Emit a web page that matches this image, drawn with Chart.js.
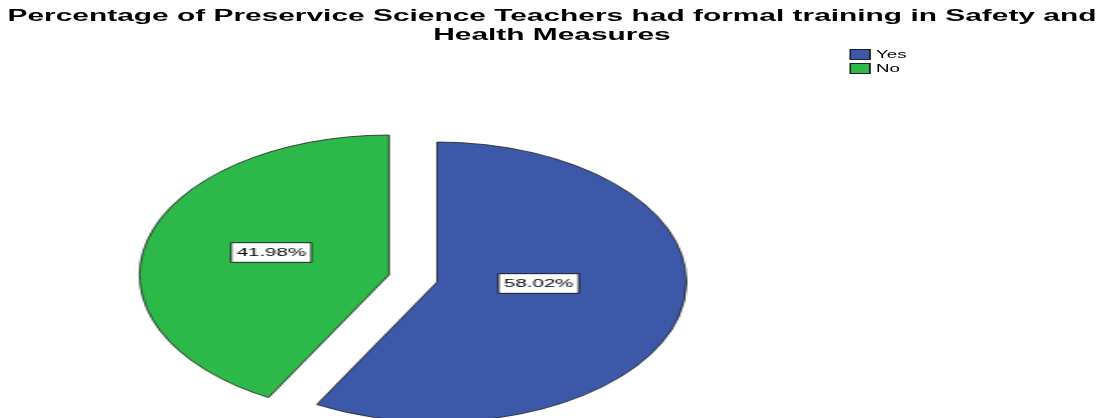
<!DOCTYPE html>
<html lang="en">
<head>
    <meta charset="UTF-8">
    <title>Formal training in Safety and Health Measures</title>
    <style>
        body {
            margin: 0;
            background: #ffffff;
            overflow: hidden;
            font-family: "Liberation Sans", Arial, sans-serif;
        }
        /* the SPSS export is stretched sideways, so draw narrow and stretch */
        .stage {
            position: relative;
            width: 620px;
            height: 418px;
            transform: scaleX(1.7806);
            transform-origin: 0 0;
        }
        .title {
            position: absolute;
            left: -20px;
            top: 6px;
            width: 660px;
            text-align: center;
            font-weight: bold;
            font-size: 16.8px;
            line-height: 19px;
            color: #000;
            white-space: nowrap;
        }
        .legend {
            position: absolute;
            left: 477px;
            top: 47px;
            font-size: 10.5px;
            line-height: 14px;
            color: #000;
        }
        .legend div { display: flex; align-items: center; }
        .legend span.box {
            display: inline-block;
            width: 10px;
            height: 9px;
            border: 1px solid #222;
            margin-right: 3px;
        }
        canvas { position: absolute; left: 0; top: 0; }
    </style>
</head>
<body>

<div class="stage">
    <canvas id="pieChart" width="620" height="418"></canvas>
    <div class="title">Percentage of Preservice Science Teachers had formal training in Safety and<br>Health Measures</div>
    <div class="legend" id="legend"></div>
</div>

<script src="https://cdn.jsdelivr.net/npm/chart.js"></script>

<script>
    const categories = ['Yes', 'No'];
    const percentValues = [58.02, 41.98];

    const sliceColors = ['#3e58a9', '#2db84a'];
    const explodeBy = [0, 28];                 // how far each slice is pulled out
    const labelShift = [[57, 1.5], [-66, -22.5]]; // label box relative to slice centre

    // legend (html text)
    const legendBox = document.getElementById('legend');
    categories.forEach((name, i) => {
        const row = document.createElement('div');
        row.innerHTML = `<span class="box" style="background:${sliceColors[i]}"></span>${name}`;
        legendBox.appendChild(row);
    });

    const explodedPie = {
        id: 'explodedPie',
        beforeDatasetsDraw(chart) {
            const ctx = chart.ctx;
            const meta = chart.getDatasetMeta(0);
            meta.data.forEach((arc, i) => {
                const mid = (arc.startAngle + arc.endAngle) / 2;
                ctx.save();
                ctx.translate(Math.cos(mid) * explodeBy[i], Math.sin(mid) * explodeBy[i]);
                arc.draw(ctx);
                ctx.restore();
            });

            ctx.save();
            ctx.font = '11.5px "Liberation Sans", Arial, sans-serif';
            ctx.textAlign = 'center';
            ctx.textBaseline = 'middle';
            meta.data.forEach((arc, i) => {
                const mid = (arc.startAngle + arc.endAngle) / 2;
                const cx = arc.x + Math.cos(mid) * explodeBy[i] + labelShift[i][0];
                const cy = arc.y + Math.sin(mid) * explodeBy[i] + labelShift[i][1];
                const text = percentValues[i].toFixed(2) + '%';
                const w = ctx.measureText(text).width + 6;
                const h = 19.5;
                ctx.fillStyle = '#ffffff';
                ctx.fillRect(cx - w / 2, cy - h / 2, w, h);
                ctx.strokeStyle = '#000000';
                ctx.lineWidth = 0.8;
                ctx.strokeRect(cx - w / 2, cy - h / 2, w, h);
                ctx.fillStyle = '#000000';
                ctx.fillText(text, cx, cy + 0.5);
            });
            ctx.restore();
            return false;
        }
    };

    new Chart(document.getElementById('pieChart'), {
        type: 'pie',
        data: {
            labels: categories,
            datasets: [{
                data: percentValues,
                backgroundColor: sliceColors,
                borderColor: '#1a1a1a',
                borderWidth: 0.8
            }]
        },
        options: {
            responsive: false,
            animation: false,
            devicePixelRatio: 1,
            radius: 140,
            layout: { padding: { left: 0, right: 129, top: 146, bottom: 0 } },
            plugins: {
                legend: { display: false },
                tooltip: { enabled: false },
                title: { display: false }
            }
        },
        plugins: [explodedPie]
    });
</script>
</body>
</html>
